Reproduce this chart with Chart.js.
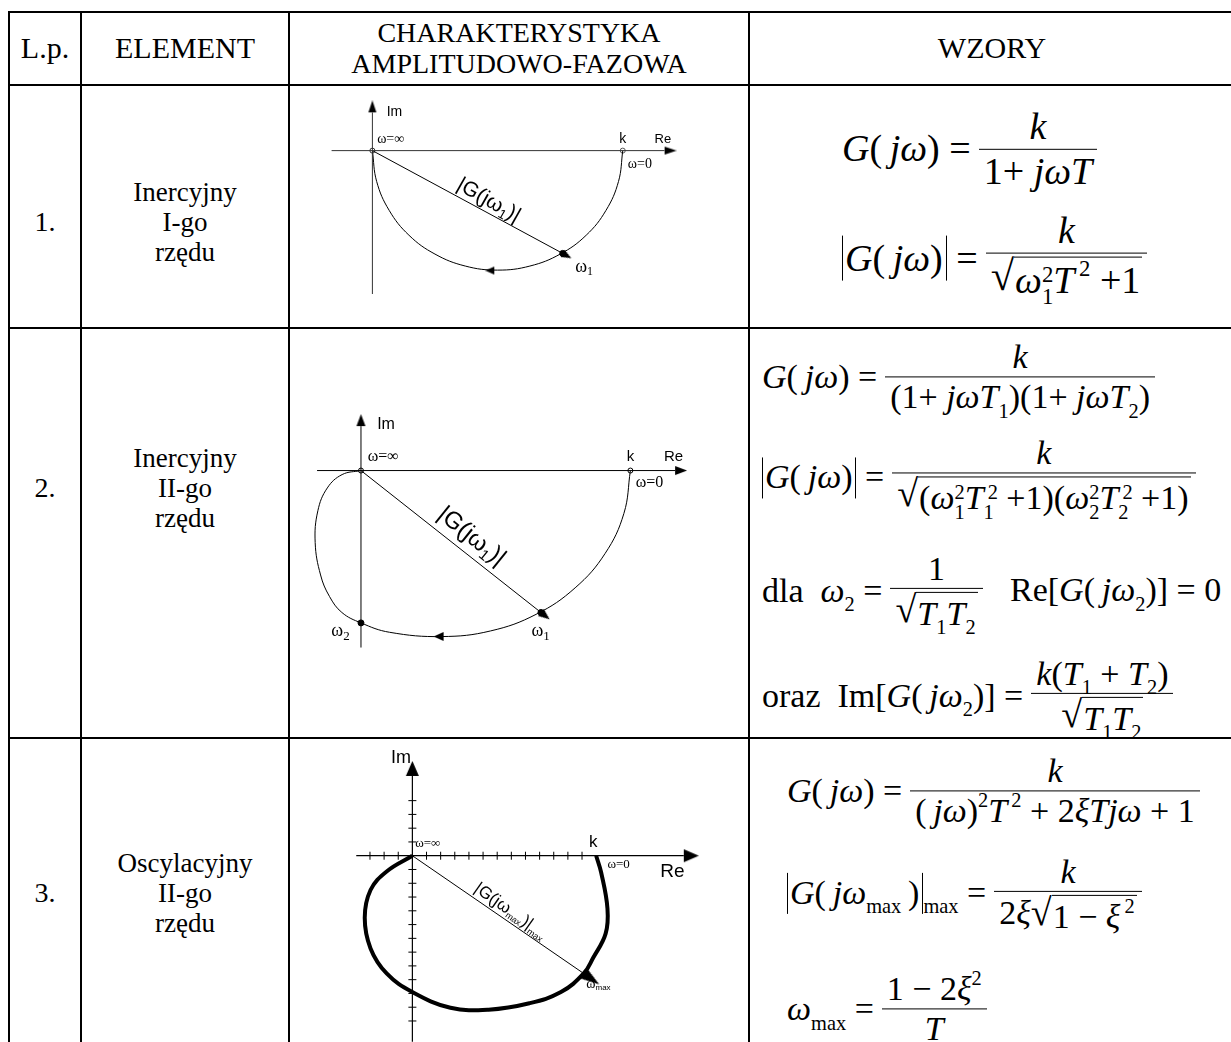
<!DOCTYPE html>
<html><head><meta charset="utf-8">
<script src="https://cdn.jsdelivr.net/npm/chart.js@4.4.1/dist/chart.umd.min.js"></script>
<style>
html,body{margin:0;padding:0;background:#fff;}
body{width:1231px;height:1042px;position:relative;overflow:hidden;font-family:'Liberation Serif','Times New Roman',serif;color:#000;}
.hl{position:absolute;height:2px;background:#000;}
.vl{position:absolute;width:2px;background:#000;}
.t{position:absolute;text-align:center;transform:translate(-50%,-50%);white-space:nowrap;}
canvas.c{position:absolute;}
.f{position:absolute;white-space:nowrap;display:flex;align-items:center;transform:translateY(-50%);line-height:1.15;}
.i{font-style:italic}
.fr{display:inline-flex;flex-direction:column;align-items:center;margin:0 2px 0 8px;}
.fr .bar{align-self:stretch;border-top:1.5px solid #000;height:0}
.fr .n,.fr .d{padding:0 5px;display:block}
.sb{font-size:0.6em;vertical-align:-0.45em;line-height:0}
.sp{font-size:0.6em;vertical-align:0.75em;line-height:0}
.ss{display:inline-block;font-size:0.6em;line-height:0.95;vertical-align:-0.5em;text-align:left}
.rt{display:inline-flex;align-items:flex-start}
.rt .sym{line-height:1;font-size:1.12em;position:relative;top:0.02em}
.rt .rad{border-top:1.5px solid #000;padding:0.08em 2px 0 1px;line-height:1.05;margin-top:0.08em}
.ab{border-left:1.5px solid #000;border-right:1.5px solid #000;padding:0 3px 0 2px;line-height:1.2;display:inline-block}
</style></head>
<body>
<div id="grid"></div>

<div class="t" style="left:45px;top:48px;font-size:30px">L.p.</div>
<div class="t" style="left:185px;top:48px;font-size:30px">ELEMENT</div>
<div class="t" style="left:519px;top:48px;font-size:28px;line-height:31px">CHARAKTERYSTYKA<br>AMPLITUDOWO-FAZOWA</div>
<div class="t" style="left:992px;top:48px;font-size:30px">WZORY</div>

<div class="t" style="left:45px;top:222px;font-size:28px">1.</div>
<div class="t" style="left:185px;top:222px;font-size:27px;line-height:30px">Inercyjny<br>I-go<br>rzędu</div>
<div class="t" style="left:45px;top:488px;font-size:28px">2.</div>
<div class="t" style="left:185px;top:488px;font-size:27px;line-height:30px">Inercyjny<br>II-go<br>rzędu</div>
<div class="t" style="left:45px;top:893px;font-size:28px">3.</div>
<div class="t" style="left:185px;top:893px;font-size:27px;line-height:30px">Oscylacyjny<br>II-go<br>rzędu</div>

<canvas id="c1" class="c"></canvas>
<canvas id="c2" class="c"></canvas>
<canvas id="c3" class="c"></canvas>

<!-- Row 1 formulas -->
<div class="f" style="left:842px;top:149px;font-size:38px"><span><span class="i">G</span>(<span class="i">&thinsp;jω</span>)&nbsp;=</span><span class="fr"><span class="n i">k</span><span class="bar"></span><span class="d">1+ <span class="i">jωT</span></span></span></div>
<div class="f" style="left:842px;top:258px;font-size:38px"><span><span class="ab"><span class="i">G</span>(<span class="i">&thinsp;jω</span>)</span>&nbsp;=</span><span class="fr"><span class="n i">k</span><span class="bar"></span><span class="d"><span class="rt"><span class="sym">√</span><span class="rad"><span class="i">ω</span><span class="ss">2<br>1</span><span class="i">T</span><span class="sp">&thinsp;2</span> +1</span></span></span></span></div>

<!-- Row 2 formulas -->
<div class="f" style="left:762px;top:377px;font-size:34px"><span><span class="i">G</span>(<span class="i">&thinsp;jω</span>)&nbsp;=</span><span class="fr"><span class="n i">k</span><span class="bar"></span><span class="d">(1+ <span class="i">jωT</span><span class="sb">1</span>)(1+ <span class="i">jωT</span><span class="sb">2</span>)</span></span></div>
<div class="f" style="left:762px;top:478px;font-size:34px"><span><span class="ab"><span class="i">G</span>(<span class="i">&thinsp;jω</span>)</span>&nbsp;=</span><span class="fr"><span class="n i">k</span><span class="bar"></span><span class="d"><span class="rt"><span class="sym">√</span><span class="rad">(<span class="i">ω</span><span class="ss">2<br>1</span><span class="i">T</span><span class="ss">&thinsp;2<br>1</span> +1)(<span class="i">ω</span><span class="ss">2<br>2</span><span class="i">T</span><span class="ss">&thinsp;2<br>2</span> +1)</span></span></span></span></div>
<div class="f" style="left:762px;top:590px;font-size:34px"><span>dla&nbsp;&nbsp;<span class="i">ω</span><span class="sb">2</span>&nbsp;=</span><span class="fr"><span class="n">1</span><span class="bar"></span><span class="d"><span class="rt"><span class="sym">√</span><span class="rad"><span class="i">T</span><span class="sb">1</span><span class="i">T</span><span class="sb">2</span></span></span></span></span></div>
<div class="f" style="left:1010px;top:590px;font-size:34px"><span>Re[<span class="i">G</span>(<span class="i">&thinsp;jω</span><span class="sb">2</span>)] = 0</span></div>
<div class="f" style="left:762px;top:695px;font-size:34px"><span>oraz&nbsp;&nbsp;Im[<span class="i">G</span>(<span class="i">&thinsp;jω</span><span class="sb">2</span>)] =</span><span class="fr"><span class="n"><span class="i">k</span>(<span class="i">T</span><span class="sb">1</span> + <span class="i">T</span><span class="sb">2</span>)</span><span class="bar"></span><span class="d"><span class="rt"><span class="sym">√</span><span class="rad"><span class="i">T</span><span class="sb">1</span><span class="i">T</span><span class="sb">2</span></span></span></span></span></div>

<!-- Row 3 formulas -->
<div class="f" style="left:787px;top:791px;font-size:34px"><span><span class="i">G</span>(<span class="i">&thinsp;jω</span>)&nbsp;=</span><span class="fr"><span class="n i">k</span><span class="bar"></span><span class="d">(<span class="i">&thinsp;jω</span>)<span class="sp">2</span><span class="i">T</span><span class="sp">&thinsp;2</span> + 2<span class="i">ξTjω</span> + 1</span></span></div>
<div class="f" style="left:787px;top:893px;font-size:34px"><span><span class="ab"><span class="i">G</span>(<span class="i">&thinsp;jω</span><span class="sb">max</span>&thinsp;)</span><span class="sb">max</span>&nbsp;=</span><span class="fr"><span class="n i">k</span><span class="bar"></span><span class="d">2<span class="i">ξ</span><span class="rt"><span class="sym">√</span><span class="rad">1 − <span class="i">ξ</span><span class="sp">&thinsp;2</span></span></span></span></span></div>
<div class="f" style="left:787px;top:1009px;font-size:34px"><span><span class="i">ω</span><span class="sb">max</span>&nbsp;=</span><span class="fr"><span class="n">1 − 2<span class="i">ξ</span><span class="sp">2</span></span><span class="bar"></span><span class="d i">T</span></span></div>

<script>
// ---------- DATA (Re / Im coordinates) ----------
// Chart 1: element inercyjny I-go rzędu, units of k
const c1CurveRe = [1, 0.983, 0.933, 0.854, 0.75, 0.629, 0.5, 0.371, 0.25, 0.146, 0.067, 0.017, 0];
const c1CurveIm = [0, -0.129, -0.25, -0.354, -0.433, -0.483, -0.5, -0.483, -0.433, -0.354, -0.25, -0.129, 0];
const c1Omega1 = [0.76, -0.43];
const c1FlowArrow = [0.487, -0.502];
const c1AxisRe = [-0.163, 1.167];
const c1AxisIm = [-0.60, 0.16];

// Chart 2: element inercyjny II-go rzędu, units of k
const c2CurveRe = [1, 0.976, 0.906, 0.795, 0.65, 0.481, 0.30, 0.106, 0, -0.071, -0.117, -0.150, -0.170, -0.160, -0.125, -0.070, 0];
const c2CurveIm = [0, -0.160, -0.310, -0.438, -0.537, -0.599, -0.620, -0.604, -0.569, -0.530, -0.470, -0.390, -0.269, -0.150, -0.065, -0.015, 0];
const c2Omega1 = [0.668, -0.530];
const c2Omega2 = [0, -0.569];
const c2FlowArrow = [0.307, -0.620];
const c2AxisRe = [-0.163, 1.166];
const c2AxisIm = [-0.661, 0.166];

// Chart 3: element oscylacyjny II-go rzędu, units of axis ticks (k = 13)
const c3CurveRe = [13, 13.35, 13.8, 13.67, 12.79, 12.12, 10.51, 8.28, 5.39, 2.69, 0, -1.82, -2.96, -3.37, -2.96, -1.82, 0];
const c3CurveIm = [0, -1.2, -3.84, -5.66, -7.41, -8.55, -9.90, -10.71, -11.18, -11.04, -9.90, -8.55, -6.73, -4.51, -2.49, -1.14, 0];
const c3OmegaMax = [12.12, -8.55];
const c3K = 13;
const c3TicksRe = [-3, -2, -1, 1, 2, 3, 4, 5, 6, 7, 8, 9, 10, 11, 12];
const c3TicksIm = [4, 3, 2, 1, -1, -2, -3, -4, -5, -6, -7, -8, -9, -10, -11, -12];
const c3AxisRe = [-3.97, 19.2];
const c3AxisIm = [-13.5, 5.79];

// ---------- table grid ----------
const colX = [9, 81, 289, 749];
const rowY = [12, 85, 328, 738];
(function grid(){
  const g = document.getElementById('grid');
  colX.forEach(x => { const d = document.createElement('div'); d.className='vl'; d.style.left=(x-1)+'px'; d.style.top=(rowY[0]-1)+'px'; d.style.height=(1042-rowY[0]+2)+'px'; g.appendChild(d); });
  rowY.forEach(y => { const d = document.createElement('div'); d.className='hl'; d.style.left=(colX[0]-1)+'px'; d.style.top=(y-1)+'px'; d.style.width=(1240-colX[0])+'px'; g.appendChild(d); });
})();

// ---------- helpers ----------
function arrowImg(len, half, color) {
  const c = document.createElement('canvas');
  c.width = Math.ceil(len) * 2; c.height = Math.ceil(half * 2) + 2;
  const x = c.getContext('2d');
  x.fillStyle = color || '#000';
  x.beginPath();
  const cy = c.height / 2;
  x.moveTo(c.width, cy); x.lineTo(c.width - len, cy - half); x.lineTo(c.width - len, cy + half); x.closePath(); x.fill();
  return c;
}
function pts(re, im) { return re.map((v, i) => ({x: v, y: im[i]})); }
function lineDs(re, im, color, width, tension) {
  return {data: pts(re, im), showLine: true, borderColor: color, borderWidth: width, pointRadius: 0, tension: tension || 0, fill: false, clip: false};
}
function arrowDs(tip, from, unit, img, rotOverride) {
  const dx = (tip[0] - from[0]) * unit, dy = -(tip[1] - from[1]) * unit;
  const ang = rotOverride !== undefined ? rotOverride : Math.atan2(dy, dx) * 180 / Math.PI;
  return {data: [{x: tip[0], y: tip[1]}], showLine: false, pointStyle: img, pointRotation: ang, pointRadius: 10, clip: false};
}
function dotDs(p, r, fill, border) {
  return {data: [{x: p[0], y: p[1]}], showLine: false, pointStyle: 'circle', pointRadius: r, pointBackgroundColor: fill, pointBorderColor: border || '#000', pointBorderWidth: 1, clip: false};
}
const SANS = "'Liberation Sans', Arial, sans-serif";
const SERIF = "'Liberation Serif', 'Times New Roman', serif";
const S = (t, s, dy) => ({t, f: s + 'px ' + SANS, dy: dy || 0});
const R = (t, s, dy) => ({t, f: s + 'px ' + SERIF, dy: dy || 0});
function labelPlugin(items) {
  return {id: 'lbl', afterDatasetsDraw(chart) {
    const ctx = chart.ctx, xs = chart.scales.x, ys = chart.scales.y;
    items.forEach(it => {
      const px = xs.getPixelForValue(it.x), py = ys.getPixelForValue(it.y);
      ctx.save(); ctx.translate(px, py); if (it.rot) ctx.rotate(it.rot * Math.PI / 180);
      ctx.textBaseline = 'middle'; ctx.fillStyle = '#000';
      let w = 0; const ws = it.parts.map(p => { ctx.font = p.f; const m = ctx.measureText(p.t).width; w += m; return m; });
      let x0 = it.align === 'center' ? -w / 2 : (it.align === 'right' ? -w : 0);
      it.parts.forEach((p, i) => { ctx.font = p.f; ctx.fillText(p.t, x0, p.dy); x0 += ws[i]; });
      ctx.restore();
    });
  }};
}
function buildChart(id, box, origin, unit, datasets, labels) {
  const cv = document.getElementById(id);
  cv.width = box.w; cv.height = box.h;
  cv.style.left = box.l + 'px'; cv.style.top = box.t + 'px';
  cv.style.width = box.w + 'px'; cv.style.height = box.h + 'px';
  return new Chart(cv, {
    type: 'scatter',
    data: {datasets},
    options: {
      responsive: false, animation: false, events: [], devicePixelRatio: 1,
      layout: {padding: 0},
      scales: {
        x: {type: 'linear', display: false, min: (box.l - origin.x) / unit, max: (box.l + box.w - origin.x) / unit},
        y: {type: 'linear', display: false, min: (origin.y - box.t - box.h) / unit, max: (origin.y - box.t) / unit}
      },
      plugins: {legend: {display: false}, tooltip: {enabled: false}}
    },
    plugins: [labelPlugin(labels)]
  });
}

// ---------- Chart 1 ----------
(function(){
  const unit = 263, O = {x: 365, y: 145};
  const axC = '#333';
  const smallA = arrowImg(12, 4, '#000');
  const vecA = arrowImg(10, 4, '#000');
  const flowA = arrowImg(9, 4, '#000');
  buildChart('c1', {l: 290, t: 86, w: 458, h: 241}, O, unit, [
    lineDs(c1AxisRe, [0, 0], axC, 1),
    lineDs([0, 0], c1AxisIm, axC, 1),
    lineDs(c1CurveRe, c1CurveIm, '#000', 1, 0.4),
    lineDs([0, c1Omega1[0]], [0, c1Omega1[1]], '#000', 1),
    arrowDs([c1AxisRe[1], 0], [0, 0], unit, smallA),
    arrowDs([0, c1AxisIm[1]], [0, 0], unit, smallA),
    arrowDs(c1Omega1, [0, 0], unit, vecA),
    arrowDs(c1FlowArrow, [1, c1FlowArrow[1]], unit, flowA, 180),
    dotDs([0, 0], 2.5, '#fff', '#333'),
    dotDs([1, 0], 2.5, '#fff', '#555'),
    dotDs(c1Omega1, 3, '#000')
  ], [
    {x: 0.057, y: 0.16, parts: [S('Im', 14)]},
    {x: 0.019, y: 0.046, parts: [R('ω=∞', 14)]},
    {x: 1.0, y: 0.046, align: 'center', parts: [S('k', 14)]},
    {x: 1.16, y: 0.046, align: 'center', parts: [S('Re', 13)]},
    {x: 1.02, y: -0.057, parts: [R('ω=0', 14)]},
    {x: 0.81, y: -0.487, parts: [R('ω', 18), R('1', 12, 5)]},
    {x: 0.464, y: -0.209, align: 'center', rot: 29.5, parts: [S('|G(jω', 21), S('1', 13, 6), S(')|', 21)]}
  ]);
})();

// ---------- Chart 2 ----------
(function(){
  const unit = 283, O = {x: 353, y: 467};
  const axA = arrowImg(12, 4.5, '#000');
  const vecA = arrowImg(11, 4.5, '#000');
  const flowA = arrowImg(10, 4.5, '#000');
  buildChart('c2', {l: 290, t: 329, w: 458, h: 408}, O, unit, [
    lineDs(c2AxisRe, [0, 0], '#000', 1),
    lineDs([0, 0], c2AxisIm, '#000', 1),
    lineDs(c2CurveRe, c2CurveIm, '#000', 1, 0.4),
    lineDs([0, c2Omega1[0]], [0, c2Omega1[1]], '#000', 1),
    arrowDs([c2AxisRe[1], 0], [0, 0], unit, axA),
    arrowDs([0, c2AxisIm[1]], [0, 0], unit, axA),
    arrowDs(c2Omega1, [0, 0], unit, vecA),
    arrowDs(c2FlowArrow, [1, c2FlowArrow[1]], unit, flowA, 180),
    dotDs([0, 0], 2.5, '#fff', '#000'),
    dotDs([1, 0], 2.5, '#fff', '#000'),
    dotDs(c2Omega1, 3, '#000'),
    dotDs(c2Omega2, 3, '#000')
  ], [
    {x: 0.06, y: 0.17, parts: [S('Im', 16)]},
    {x: 0.025, y: 0.05, parts: [R('ω=∞', 16)]},
    {x: 1.0, y: 0.05, align: 'center', parts: [S('k', 15)]},
    {x: 1.16, y: 0.05, align: 'center', parts: [S('Re', 15)]},
    {x: 1.02, y: -0.046, parts: [R('ω=0', 16)]},
    {x: -0.11, y: -0.60, parts: [R('ω', 18), R('2', 13, 5)]},
    {x: 0.633, y: -0.60, parts: [R('ω', 18), R('1', 13, 5)]},
    {x: 0.41, y: -0.247, align: 'center', rot: 38.8, parts: [S('|G(jω', 24), S('1', 15, 7), S(')|', 24)]}
  ]);
})();

// ---------- Chart 3 ----------
(function(){
  const unit = 14.85, O = {x: 407, y: 853};
  const axA = arrowImg(15, 6.5, '#000');
  const vecA = arrowImg(19, 6, '#000');
  const ticksH = {data: c3TicksRe.map(v => ({x: v, y: 0})), showLine: false, pointStyle: 'line', pointRotation: 90, pointRadius: 4, pointBorderColor: '#000', pointBorderWidth: 1, clip: false};
  const ticksV = {data: c3TicksIm.map(v => ({x: 0, y: v})), showLine: false, pointStyle: 'line', pointRotation: 0, pointRadius: 4, pointBorderColor: '#000', pointBorderWidth: 1, clip: false};
  buildChart('c3', {l: 290, t: 739, w: 458, h: 303}, O, unit, [
    lineDs(c3AxisRe, [0, 0], '#000', 1.2),
    lineDs([0, 0], c3AxisIm, '#000', 1.2),
    ticksH, ticksV,
    lineDs(c3CurveRe, c3CurveIm, '#000', 4, 0.4),
    lineDs([0, c3OmegaMax[0]], [0, c3OmegaMax[1]], '#000', 1),
    arrowDs([c3AxisRe[1], 0], [0, 0], unit, axA),
    arrowDs([0, c3AxisIm[1]], [0, 0], unit, axA),
    arrowDs(c3OmegaMax, [0, 0], unit, vecA)
  ], [
    {x: -0.81, y: 7.1, align: 'center', parts: [S('Im', 18)]},
    {x: 0.2, y: 0.88, parts: [R('ω=∞', 13)]},
    {x: c3K - 0.2, y: 1.0, align: 'center', parts: [S('k', 17)]},
    {x: 13.8, y: -0.67, parts: [R('ω=0', 13)]},
    {x: 18.4, y: -1.2, align: 'center', parts: [S('Re', 19)]},
    {x: 12.3, y: -9.36, parts: [R('ω', 14), S('max', 8, 3)]},
    {x: 6.94, y: -4.04, align: 'center', rot: 35.2, parts: [S('|G(jω', 17), S('max', 9, 5), S(')|', 17), S('max', 9, 6)]}
  ]);
})();
</script>
</body></html>
